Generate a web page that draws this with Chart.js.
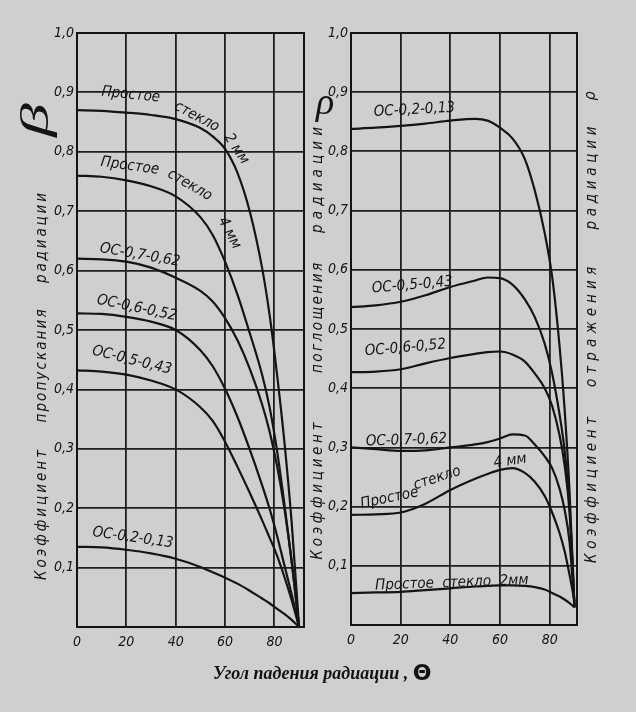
<!DOCTYPE html>
<html lang="ru">
<head>
<meta charset="utf-8">
<title>Коэффициенты пропускания, поглощения и отражения радиации</title>
<script src="https://cdn.jsdelivr.net/npm/chart.js@4.4.1/dist/chart.umd.min.js"></script>
<style>
  html, body { margin: 0; padding: 0; background: #cfcfcf; }
  #wrap { position: relative; width: 636px; height: 712px; overflow: hidden; background: #cfcfcf; }
  #leftChart { position: absolute; left: 0; top: 0; }
  #rightChart { position: absolute; left: 310px; top: 0; }
  #xTitle { position: absolute; left: 213px; top: 660px; white-space: nowrap;
            font: bold italic 18px "Liberation Serif", "DejaVu Serif", serif; color: #111; }
  #xTitle span { font: bold 22px "DejaVu Sans", sans-serif; vertical-align: -1px; }
</style>
</head>
<body>
<div id="wrap">
  <canvas id="leftChart" width="310" height="712"></canvas>
  <canvas id="rightChart" width="326" height="712"></canvas>
  <div id="xTitle">Угол падения радиации , <span>Θ</span></div>
</div>
<script>
// Angle of incidence, degrees
const xTicks = [0, 20, 40, 60, 80];
const yTicks = [0, 0.1, 0.2, 0.3, 0.4, 0.5, 0.6, 0.7, 0.8, 0.9, 1.0];

// Left panel: transmission coefficient (beta)
const leftAngles = [0, 10, 20, 30, 40, 50, 55, 60, 65, 70, 75, 78, 81, 84, 87, 90];
const glass2mmT = [0.870, 0.869, 0.866, 0.862, 0.855, 0.840, 0.826, 0.805, 0.765, 0.700, 0.605, 0.527, 0.428, 0.314, 0.176, 0];
const glass4mmT = [0.760, 0.758, 0.752, 0.742, 0.725, 0.690, 0.660, 0.615, 0.560, 0.495, 0.425, 0.371, 0.299, 0.209, 0.110, 0];
const os07T     = [0.620, 0.619, 0.615, 0.605, 0.588, 0.566, 0.548, 0.520, 0.483, 0.435, 0.375, 0.330, 0.273, 0.201, 0.111, 0];
const os06T     = [0.528, 0.527, 0.522, 0.514, 0.500, 0.466, 0.439, 0.401, 0.354, 0.299, 0.239, 0.200, 0.155, 0.105, 0.055, 0];
const os05T     = [0.432, 0.430, 0.425, 0.415, 0.400, 0.370, 0.347, 0.312, 0.270, 0.226, 0.180, 0.151, 0.121, 0.085, 0.045, 0];
const os02T     = [0.135, 0.134, 0.130, 0.124, 0.115, 0.101, 0.092, 0.083, 0.073, 0.061, 0.048, 0.040, 0.031, 0.022, 0.012, 0];

// Right panel: absorption coefficient (rho)
const rightAngles = [0, 10, 20, 30, 40, 50, 55, 60, 65, 70, 74, 78, 81, 84, 86, 88, 90];
const os02A     = [0.838, 0.840, 0.843, 0.847, 0.852, 0.855, 0.852, 0.840, 0.822, 0.787, 0.734, 0.662, 0.588, 0.470, 0.365, 0.225, 0.030];
const os05A     = [0.537, 0.540, 0.546, 0.557, 0.571, 0.582, 0.587, 0.586, 0.575, 0.550, 0.520, 0.475, 0.425, 0.355, 0.295, 0.200, 0.030];
const os06A     = [0.427, 0.428, 0.432, 0.442, 0.451, 0.458, 0.461, 0.462, 0.457, 0.445, 0.425, 0.400, 0.370, 0.320, 0.270, 0.190, 0.030];
const os07A     = [0.300, 0.297, 0.294, 0.295, 0.300, 0.305, 0.309, 0.315, 0.322, 0.320, 0.305, 0.285, 0.265, 0.230, 0.195, 0.140, 0.030];
const glass4mmA = [0.186, 0.187, 0.190, 0.205, 0.228, 0.247, 0.255, 0.262, 0.265, 0.257, 0.242, 0.218, 0.190, 0.155, 0.125, 0.085, 0.040];
const glass2mmA = [0.054, 0.055, 0.056, 0.059, 0.062, 0.065, 0.066, 0.067, 0.067, 0.066, 0.064, 0.060, 0.054, 0.048, 0.043, 0.037, 0.030];

// Curve captions, placed in data units (angle, coefficient), rotation in degrees
const leftLabels = [
  { text: 'Простое', x: 21.8, y: 0.896, angle: 6 },
  { text: 'стекло', x: 48.5, y: 0.859, angle: 28 },
  { text: '2 мм', x: 64.6, y: 0.805, angle: 57 },
  { text: 'Простое', x: 21.4, y: 0.776, angle: 8 },
  { text: 'стекло', x: 45.7, y: 0.744, angle: 30 },
  { text: '4 мм', x: 61.8, y: 0.663, angle: 62 },
  { text: 'ОС-0,7-0,62', x: 25.5, y: 0.626, angle: 10 },
  { text: 'ОС-0,6-0,52', x: 24.2, y: 0.537, angle: 12 },
  { text: 'ОС-0,5-0,43', x: 22.2, y: 0.449, angle: 14 },
  { text: 'ОС-0,2-0,13', x: 22.6, y: 0.150, angle: 8 }
];
const rightLabels = [
  { text: 'ОС-0,2-0,13', x: 25.5, y: 0.870, angle: -3 },
  { text: 'ОС-0,5-0,43', x: 24.7, y: 0.574, angle: -5 },
  { text: 'ОС-0,6-0,52', x: 21.9, y: 0.468, angle: -5 },
  { text: 'ОС-0,7-0,62', x: 22.3, y: 0.312, angle: -2 },
  { text: 'Простое', x: 15.5, y: 0.214, angle: -12 },
  { text: 'стекло', x: 34.7, y: 0.248, angle: -18 },
  { text: '4 мм', x: 64.1, y: 0.277, angle: -8 },
  { text: 'Простое  стекло  2мм', x: 40.6, y: 0.071, angle: -2 }
];

const ink = '#141414';
const gridInk = '#1e1e1e';
const narrow = '"DejaVu Sans Condensed", "Liberation Sans Narrow", sans-serif';
const tickFont = { family: narrow, size: 14, style: 'italic' };

// turn two arrays into {x, y} points
function toPoints(angles, values) {
  return angles.map((a, i) => ({ x: a, y: values[i] }));
}

// draw a word rotated bottom-to-top, stretched to the given length
function drawVertical(ctx, text, cx, cy, len, stretch) {
  ctx.save();
  ctx.translate(cx, cy);
  ctx.rotate(-Math.PI / 2);
  if (stretch) ctx.scale(stretch, 1);
  ctx.textAlign = 'left';
  ctx.textBaseline = 'middle';
  const w = ctx.measureText(text).width;
  const gap = text.length > 1 ? Math.max(0, (len - w) / (text.length - 1)) : 0;
  let pos = text.length > 1 ? -len / 2 : -w / 2;
  for (const ch of text) {
    ctx.fillText(ch, pos, 0);
    pos += ctx.measureText(ch).width + gap;
  }
  ctx.restore();
}

const frame = {
  id: 'frame',
  beforeDatasetsDraw(chart) {
    const { ctx, chartArea: a } = chart;
    ctx.save();
    ctx.strokeStyle = ink;
    ctx.lineWidth = 2;
    ctx.strokeRect(a.left, a.top, a.right - a.left, a.bottom - a.top);
    ctx.restore();
  }
};

const curveLabels = {
  id: 'curveLabels',
  afterDatasetsDraw(chart, args, opts) {
    const { ctx, scales: { x, y } } = chart;
    ctx.save();
    ctx.font = 'italic 15px ' + narrow;
    ctx.fillStyle = ink;
    ctx.textAlign = 'center';
    ctx.textBaseline = 'middle';
    for (const l of opts.items) {
      ctx.save();
      ctx.translate(x.getPixelForValue(l.x), y.getPixelForValue(l.y));
      ctx.rotate(l.angle * Math.PI / 180);
      ctx.fillText(l.text, 0, 0);
      ctx.restore();
    }
    ctx.restore();
  }
};

// axis captions running along the sides
const sideTitles = {
  id: 'sideTitles',
  afterDraw(chart, args, opts) {
    const ctx = chart.ctx;
    ctx.save();
    ctx.fillStyle = ink;
    for (const col of opts.columns) {
      ctx.font = 'italic 15px ' + narrow;
      for (const w of col.words) drawVertical(ctx, w.text, col.x, w.y, w.len);
      if (col.symbol) {
        const s = col.symbol;
        ctx.font = s.font;
        if (s.upright) {
          ctx.textAlign = 'center';
          ctx.textBaseline = 'middle';
          ctx.fillText(s.text, s.x, s.y);
        } else {
          drawVertical(ctx, s.text, s.x, s.y, 0, s.stretch);
        }
      }
    }
    ctx.restore();
  }
};

function panelOptions(xMax, yWidth, padding, labels, columns) {
  return {
    responsive: false,
    animation: false,
    layout: { padding: padding },
    elements: {
      point: { radius: 0 },
      line: { borderColor: ink, borderWidth: 2.2, cubicInterpolationMode: 'monotone' }
    },
    plugins: {
      legend: { display: false },
      tooltip: { enabled: false },
      curveLabels: { items: labels },
      sideTitles: { columns: columns }
    },
    scales: {
      x: {
        type: 'linear', min: 0, max: xMax,
        afterBuildTicks: s => { s.ticks = xTicks.map(v => ({ value: v })); },
        afterFit: s => { s.height = 30; },
        ticks: { font: tickFont, color: ink, padding: 7, maxRotation: 0, callback: v => String(v) },
        grid: { color: gridInk, lineWidth: 1.8, drawTicks: false },
        border: { color: ink, width: 2 }
      },
      y: {
        min: 0, max: 1,
        afterBuildTicks: s => { s.ticks = yTicks.map(v => ({ value: v })); },
        afterFit: s => { s.width = yWidth; },
        ticks: { font: tickFont, color: ink, padding: 3,
                 callback: v => v === 0 ? '' : v.toFixed(1).replace('.', ',') },
        grid: { color: gridInk, lineWidth: 1.8, drawTicks: false },
        border: { color: ink, width: 2 }
      }
    }
  };
}

function makeDatasets(angles, series) {
  return series.map(s => ({ label: s.name, data: toPoints(angles, s.values) }));
}

const leftChart = new Chart(document.getElementById('leftChart'), {
  type: 'line',
  data: {
    datasets: makeDatasets(leftAngles, [
      { name: 'Простое стекло 2 мм', values: glass2mmT },
      { name: 'Простое стекло 4 мм', values: glass4mmT },
      { name: 'ОС-0,7-0,62', values: os07T },
      { name: 'ОС-0,6-0,52', values: os06T },
      { name: 'ОС-0,5-0,43', values: os05T },
      { name: 'ОС-0,2-0,13', values: os02T }
    ])
  },
  options: panelOptions(92, 77, { top: 33, right: 6, bottom: 55, left: 0 }, leftLabels, [
    { x: 42,
      words: [
        { text: 'Коэффициент', y: 515, len: 130 },
        { text: 'пропускания', y: 366, len: 113 },
        { text: 'радиации', y: 238, len: 90 }
      ],
      symbol: { text: 'β', x: 37, y: 120, stretch: 1.7, font: 'italic 40px "Liberation Serif", serif' } }
  ]),
  plugins: [frame, curveLabels, sideTitles]
});

const rightChart = new Chart(document.getElementById('rightChart'), {
  type: 'line',
  data: {
    datasets: makeDatasets(rightAngles, [
      { name: 'ОС-0,2-0,13', values: os02A },
      { name: 'ОС-0,5-0,43', values: os05A },
      { name: 'ОС-0,6-0,52', values: os06A },
      { name: 'ОС-0,7-0,62', values: os07A },
      { name: 'Простое стекло 4 мм', values: glass4mmA },
      { name: 'Простое стекло 2 мм', values: glass2mmA }
    ])
  },
  options: panelOptions(91, 41, { top: 33, right: 59, bottom: 57, left: 0 }, rightLabels, [
    { x: 8,
      words: [
        { text: 'Коэффициент', y: 491, len: 137 },
        { text: 'поглощения', y: 318, len: 110 },
        { text: 'радиации', y: 180, len: 106 }
      ],
      symbol: { text: 'ρ', x: 15, y: 104, upright: true, font: 'italic 38px "Liberation Serif", serif' } },
    { x: 282,
      words: [
        { text: 'Коэффициент', y: 490, len: 146 },
        { text: 'отражения', y: 327, len: 120 },
        { text: 'радиации', y: 178, len: 103 }
      ],
      symbol: { text: 'ρ', x: 281, y: 96, font: 'italic 16px ' + narrow } }
  ]),
  plugins: [frame, curveLabels, sideTitles]
});
</script>
</body>
</html>
